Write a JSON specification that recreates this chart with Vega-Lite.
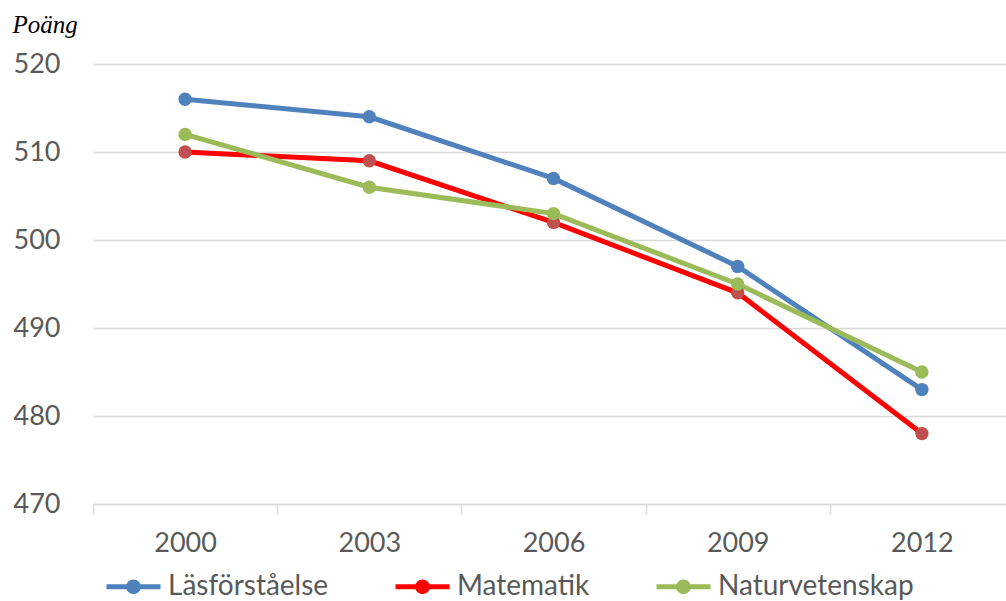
{
  "$schema": "https://vega.github.io/schema/vega-lite/v6.json",
  "autosize": "none",
  "width": 921,
  "height": 440,
  "padding": {"left": 93, "top": 64, "right": 0, "bottom": 97},
  "background": "white",
  "config": {"view": {"stroke": null}, "font": "Lato"},
  "data": {
    "values": [
      {"year": "2000", "subject": "Läsförståelse", "score": 516},
      {"year": "2003", "subject": "Läsförståelse", "score": 514},
      {"year": "2006", "subject": "Läsförståelse", "score": 507},
      {"year": "2009", "subject": "Läsförståelse", "score": 497},
      {"year": "2012", "subject": "Läsförståelse", "score": 483},
      {"year": "2000", "subject": "Matematik", "score": 510},
      {"year": "2003", "subject": "Matematik", "score": 509},
      {"year": "2006", "subject": "Matematik", "score": 502},
      {"year": "2009", "subject": "Matematik", "score": 494},
      {"year": "2012", "subject": "Matematik", "score": 478},
      {"year": "2000", "subject": "Naturvetenskap", "score": 512},
      {"year": "2003", "subject": "Naturvetenskap", "score": 506},
      {"year": "2006", "subject": "Naturvetenskap", "score": 503},
      {"year": "2009", "subject": "Naturvetenskap", "score": 495},
      {"year": "2012", "subject": "Naturvetenskap", "score": 485}
    ]
  },
  "encoding": {
    "x": {
      "field": "year", "type": "ordinal",
      "scale": {"type": "band", "paddingInner": 0, "paddingOuter": 0},
      "axis": {
        "title": null, "labelAngle": 0, "labelFontSize": 27, "labelColor": "#595959",
        "labelPadding": 16, "domainColor": "#d9d9d9", "domainWidth": 1.5,
        "tickColor": "#d9d9d9", "tickWidth": 1.5, "tickSize": 10, "tickBand": "extent", "grid": false
      }
    },
    "y": {
      "field": "score", "type": "quantitative",
      "scale": {"domain": [470, 520], "nice": false, "zero": false},
      "axis": {
        "values": [470, 480, 490, 500, 510, 520],
        "title": "Poäng", "titleFont": "Liberation Serif", "titleFontStyle": "italic",
        "titleFontWeight": "normal", "titleFontSize": 25, "titleColor": "black",
        "titleAngle": 0, "titleX": -81, "titleY": -32, "titleAlign": "left", "titleBaseline": "alphabetic",
        "domain": false, "ticks": false, "grid": true, "gridColor": "#d9d9d9", "gridWidth": 1.5,
        "labelFontSize": 27, "labelColor": "#595959", "labelPadding": 33
      }
    }
  },
  "layer": [
    {
      "mark": {"type": "line", "strokeWidth": 5},
      "encoding": {
        "color": {
          "field": "subject", "type": "nominal",
          "scale": {"domain": ["Läsförståelse", "Matematik", "Naturvetenskap"], "range": ["#4F81BD", "#FF0000", "#9BBB59"]},
          "legend": {
            "title": null, "orient": "none", "legendX": 11, "legendY": 493, "direction": "horizontal",
            "symbolType": "M-1,0L1,0M0.09,0C0.09,0.05,0.05,0.09,0,0.09C-0.05,0.09,-0.09,0.05,-0.09,0C-0.09,-0.05,-0.05,-0.09,0,-0.09C0.05,-0.09,0.09,-0.05,0.09,0ZM0.18,0C0.18,0.1,0.1,0.18,0,0.18C-0.1,0.18,-0.18,0.1,-0.18,0C-0.18,-0.1,-0.1,-0.18,0,-0.18C0.1,-0.18,0.18,-0.1,0.18,0Z",
            "symbolSize": 2916, "symbolStrokeWidth": 5, "symbolFillColor": "transparent",
            "labelFontSize": 28, "labelColor": "#595959", "labelOffset": 5, "labelLimit": 400,
            "columnPadding": 56, "padding": 0
          }
        }
      }
    },
    {
      "mark": {"type": "circle", "size": 180, "opacity": 1},
      "encoding": {
        "fill": {
          "field": "subject", "type": "nominal",
          "scale": {"range": ["#4F81BD", "#C0504D", "#9BBB59"]},
          "legend": null
        }
      }
    }
  ]
}
